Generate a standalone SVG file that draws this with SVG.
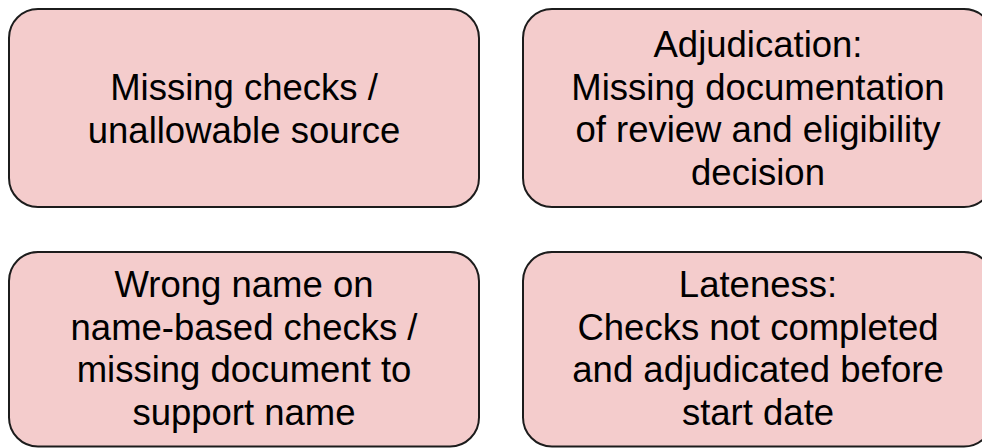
<svg xmlns="http://www.w3.org/2000/svg" width="982" height="448" viewBox="0 0 982 448">
<style>
.box{fill:#f4cccc;stroke:#1c1c1c;stroke-width:2}
.t{font-family:"Liberation Sans",Arial,sans-serif;font-size:36.5px;fill:#000;text-anchor:middle}
</style>
<rect width="982" height="448" fill="#ffffff"/>
<g id="connectors"/>
<g id="node1">
<rect class="box" x="9" y="9" width="470" height="198" rx="29" ry="29"/>
<text class="t" x="244" y="100">Missing checks /</text>
<text class="t" x="244" y="142.5">unallowable source</text>
</g>
<g id="node2">
<rect class="box" x="523" y="9" width="470" height="198" rx="29" ry="29"/>
<text class="t" x="758" y="57">Adjudication:</text>
<text class="t" x="758" y="99.5">Missing documentation</text>
<text class="t" x="758" y="142">of review and eligibility</text>
<text class="t" x="758" y="184.5">decision</text>
</g>
<g id="node3">
<rect class="box" x="9" y="252" width="470" height="194.5" rx="29" ry="29"/>
<text class="t" x="244" y="297">Wrong name on</text>
<text class="t" x="244" y="339.5">name-based checks /</text>
<text class="t" x="244" y="382">missing document to</text>
<text class="t" x="244" y="424.5">support name</text>
</g>
<g id="node4">
<rect class="box" x="523" y="252" width="470" height="194.5" rx="29" ry="29"/>
<text class="t" x="758" y="297">Lateness:</text>
<text class="t" x="758" y="339.5">Checks not completed</text>
<text class="t" x="758" y="382">and adjudicated before</text>
<text class="t" x="758" y="424.5">start date</text>
</g>
</svg>
